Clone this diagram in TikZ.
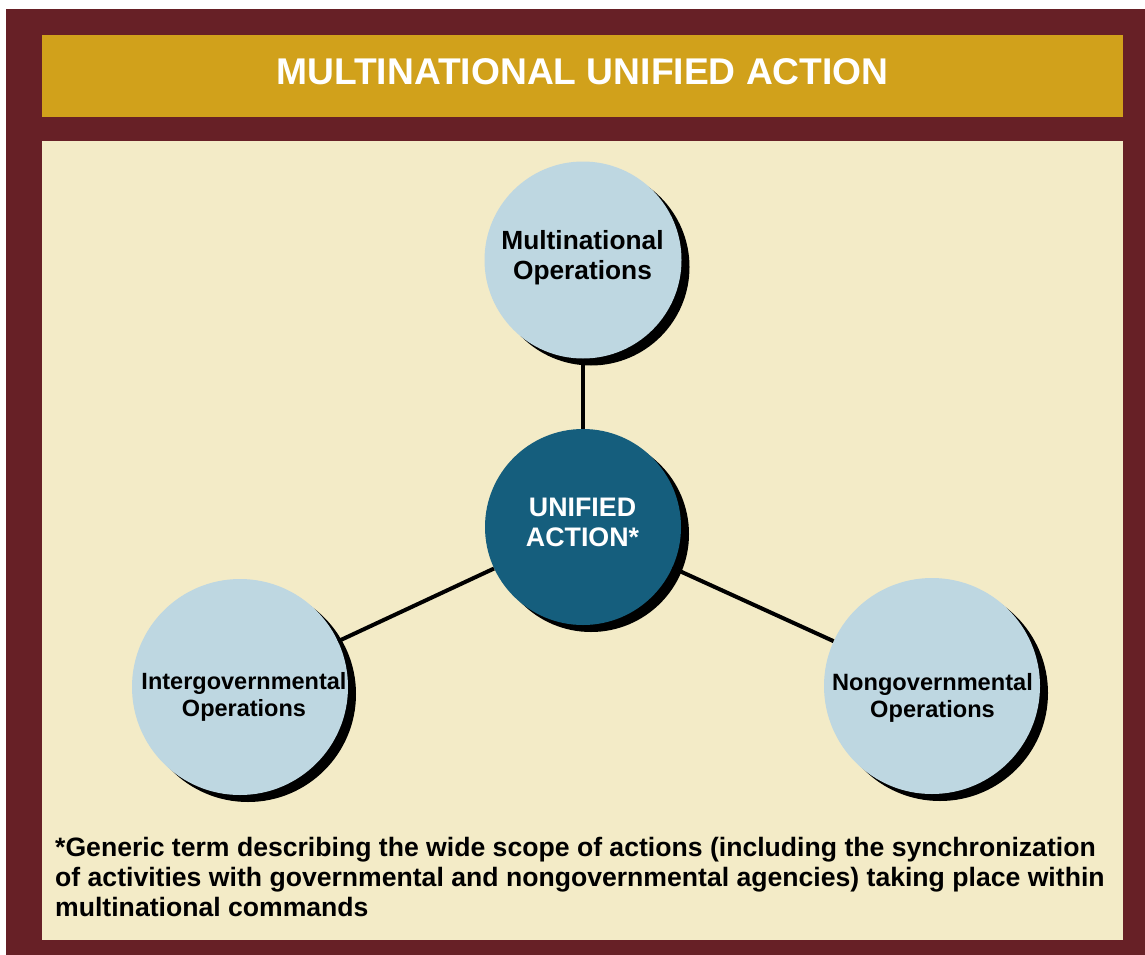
\documentclass[tikz,border=0pt]{standalone}
\usepackage{fontspec}
\setmainfont{Liberation Sans}
\usetikzlibrary{shadows}

\definecolor{frameRed}{HTML}{672026}
\definecolor{titleGold}{HTML}{D1A11B}
\definecolor{panelCream}{HTML}{F3EBC7}
\definecolor{opBlue}{HTML}{BED7E1}
\definecolor{hubTeal}{HTML}{155E7D}

\begin{document}
\begin{tikzpicture}[x=1pt, y=-1pt, font=\bfseries, inner sep=0pt,
    opcircle/.style={circle, fill=opBlue,
      drop shadow={shadow xshift=8pt, shadow yshift=-7pt, fill=black, opacity=1}},
    hubcircle/.style={opcircle, fill=hubTeal},
    optext/.style={align=center}]
    \useasboundingbox (0,0) rectangle (1145,955);

    % frame, title bar and panel
    \node[fill=frameRed, minimum width=1139pt, minimum height=946pt]  (frame)    at (575.5, 482.0) {};
    \node[fill=titleGold, minimum width=1081pt, minimum height=82pt]  (titlebar) at (582.5,  76.0) {};
    \node[fill=panelCream, minimum width=1081pt, minimum height=799pt] (panel)   at (582.5, 540.5) {};
    \node[text=white, font=\bfseries\fontsize{37.2}{40}\selectfont]    (title)    at (582.5,  72.0) {MULTINATIONAL UNIFIED ACTION};

    % circles
    \node[opcircle, minimum size=197pt]  (MO) at (583, 260) {};
    \node[hubcircle, minimum size=196pt] (UA) at (583, 527) {};
    \node[opcircle, minimum size=216pt]  (IO) at (240, 687) {};
    \node[opcircle, minimum size=216pt]  (NO) at (932, 686) {};

    \node[optext, font=\bfseries\fontsize{26.3}{30}\selectfont]              (MOtext) at (582.5, 258) {Multinational\\Operations};
    \node[optext, text=white, font=\bfseries\fontsize{26.8}{30}\selectfont]  (UAtext) at (582.5, 522) {UNIFIED\\ACTION*};
    \node[optext, font=\bfseries\fontsize{23.5}{26.5}\selectfont]            (IOtext) at (244, 697)   {Intergovernmental\\Operations};
    \node[optext, font=\bfseries\fontsize{23.6}{26.5}\selectfont]            (NOtext) at (932.5, 698) {Nongovernmental\\Operations};

    \draw[-, line width=4pt] (UA) -- (MO);
    \draw[-, line width=4pt] (UA) -- (IO);
    \draw[-, line width=4pt] (UA) -- (NO);

    % footnote
    \node[anchor=north west, align=left, font=\bfseries\fontsize{26.6}{30}\selectfont] (note) at (55, 837)
      {*Generic term describing the wide scope of actions (including the synchronization\\
       of activities with governmental and nongovernmental agencies) taking place within\\
       multinational commands};
  \end{tikzpicture}
\end{document}
